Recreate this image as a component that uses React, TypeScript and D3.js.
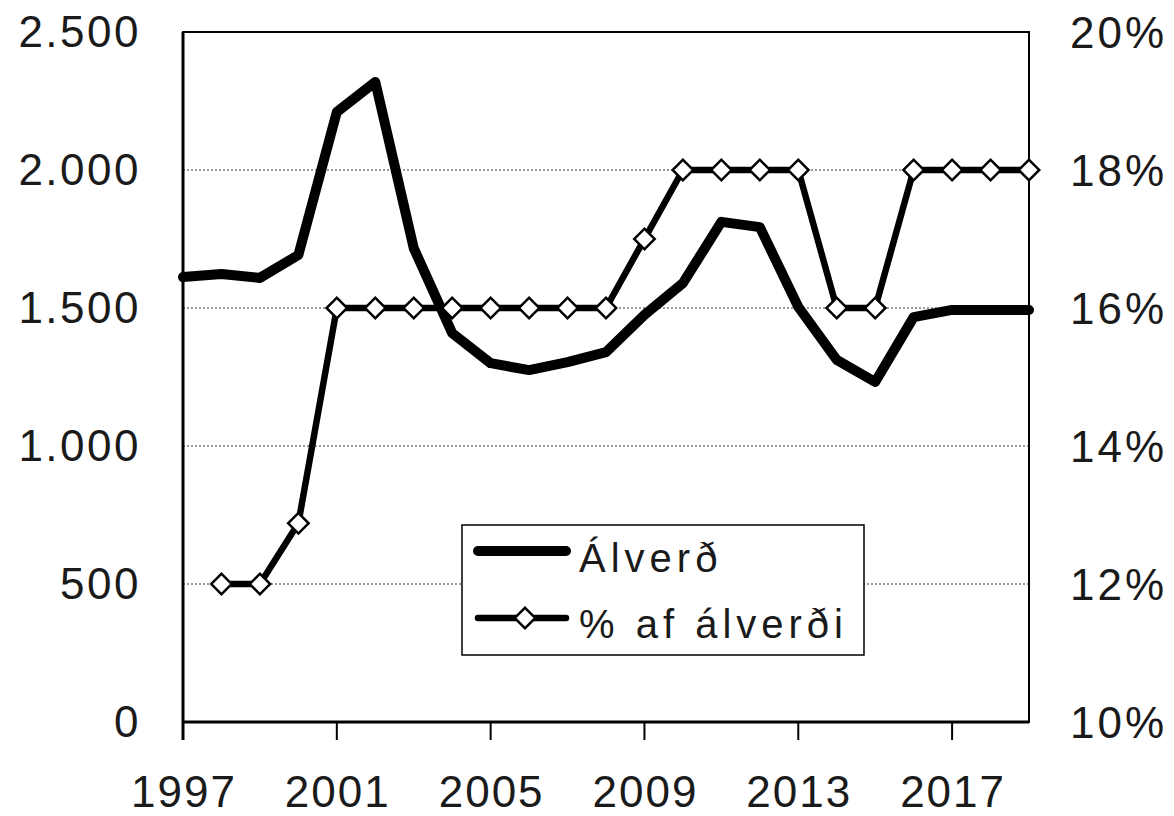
import { useRef, useEffect } from "react";
import * as d3 from "d3";

const years = [1997, 1998, 1999, 2000, 2001, 2002, 2003, 2004, 2005, 2006, 2007, 2008, 2009, 2010, 2011, 2012, 2013, 2014, 2015, 2016, 2017, 2018, 2019];
const alverd = [1612, 1623, 1609, 1692, 2210, 2319, 1717, 1409, 1300, 1275, 1304, 1340, 1475, 1590, 1812, 1793, 1504, 1312, 1232, 1467, 1493, 1493, 1493];
// % af álverði, starts 1998
const pctYears = [1998, 1999, 2000, 2001, 2002, 2003, 2004, 2005, 2006, 2007, 2008, 2009, 2010, 2011, 2012, 2013, 2014, 2015, 2016, 2017, 2018, 2019];
const pct = [12, 12, 12.88, 16, 16, 16, 16, 16, 16, 16, 16, 17, 18, 18, 18, 18, 16, 16, 18, 18, 18, 18];
const leftTicks = [0, 500, 1000, 1500, 2000, 2500];
const rightTicks = [10, 12, 14, 16, 18, 20];
const yearTicks = [1997, 2001, 2005, 2009, 2013, 2017];
const seriesNames = ["Álverð", "% af álverði"];

const W = 1174;
const H = 816;
const FONT = "'Liberation Sans', Arial, sans-serif";

export default function App() {
  const ref = useRef<SVGSVGElement | null>(null);

  useEffect(() => {
    document.body.style.margin = "0";
    if (!ref.current) return;
    const svg = d3.select(ref.current);
    svg.selectAll("*").remove();

    const L = 183, R = 1029, T = 32, B = 722;
    const x = d3.scaleLinear().domain([1997, 2019]).range([L, R]);
    const yL = d3.scaleLinear().domain([0, 2500]).range([B, T]);
    const yR = d3.scaleLinear().domain([10, 20]).range([B, T]);

    svg.append("rect").attr("width", W).attr("height", H).attr("fill", "#fff");

    // gridlines
    svg.append("g")
      .selectAll("line")
      .data(leftTicks.filter((d) => d > 0 && d < 2500))
      .join("line")
      .attr("x1", L).attr("x2", R)
      .attr("y1", (d) => yL(d)).attr("y2", (d) => yL(d))
      .attr("stroke", "#333").attr("stroke-width", 1).attr("stroke-dasharray", "2,2");

    // frame
    svg.append("rect")
      .attr("x", L).attr("y", T).attr("width", R - L).attr("height", B - T)
      .attr("fill", "none").attr("stroke", "#000").attr("stroke-width", 2);
    svg.append("line").attr("x1", L).attr("x2", L).attr("y1", T).attr("y2", B + 18)
      .attr("stroke", "#000").attr("stroke-width", 3);
    svg.append("line").attr("x1", L).attr("x2", R).attr("y1", B).attr("y2", B)
      .attr("stroke", "#000").attr("stroke-width", 3);

    // x ticks
    svg.append("g")
      .selectAll("line")
      .data(yearTicks)
      .join("line")
      .attr("x1", (d) => x(d)).attr("x2", (d) => x(d))
      .attr("y1", B).attr("y2", B + 18)
      .attr("stroke", "#000").attr("stroke-width", 2);

    const txt = (g: any) => g.attr("font-family", FONT).attr("fill", "#1a1a1a");

    svg.append("g").call(txt)
      .selectAll("text")
      .data(yearTicks)
      .join("text")
      .attr("x", (d) => x(d) + 1).attr("y", 807)
      .attr("text-anchor", "middle")
      .attr("font-size", 44).attr("letter-spacing", 2)
      .text((d) => String(d));

    const fmtL = (d: number) => d3.format(",")(d).replace(",", ".");
    svg.append("g").call(txt)
      .selectAll("text")
      .data(leftTicks)
      .join("text")
      .attr("x", 141).attr("y", (d) => yL(d) - 1)
      .attr("text-anchor", "end").attr("dominant-baseline", "central")
      .attr("font-size", 44).attr("letter-spacing", 2.5)
      .text(fmtL);

    svg.append("g").call(txt)
      .selectAll("text")
      .data(rightTicks)
      .join("text")
      .attr("x", 1070).attr("y", (d) => yR(d))
      .attr("text-anchor", "start").attr("dominant-baseline", "central")
      .attr("font-size", 44).attr("letter-spacing", 3)
      .text((d) => d + "%");

    // Álverð line
    svg.append("path")
      .datum(years.map((yr, i) => [yr, alverd[i]] as [number, number]))
      .attr("fill", "none").attr("stroke", "#000").attr("stroke-width", 10)
      .attr("stroke-linejoin", "round").attr("stroke-linecap", "round")
      .attr("d", d3.line<[number, number]>().x((d) => x(d[0])).y((d) => yL(d[1])));

    // % line
    const pData = pctYears.map((yr, i) => [yr, pct[i]] as [number, number]);
    svg.append("path")
      .datum(pData)
      .attr("fill", "none").attr("stroke", "#000").attr("stroke-width", 6.5)
      .attr("stroke-linejoin", "round")
      .attr("d", d3.line<[number, number]>().x((d) => x(d[0])).y((d) => yR(d[1])));

    const diamond = d3.symbol().type(d3.symbolSquare).size(210);
    svg.append("g")
      .selectAll("path")
      .data(pData)
      .join("path")
      .attr("d", diamond)
      .attr("transform", (d) => `translate(${x(d[0])},${yR(d[1])}) rotate(45)`)
      .attr("fill", "#fff").attr("stroke", "#000").attr("stroke-width", 2.5);

    // legend
    const lg = svg.append("g");
    lg.append("rect")
      .attr("x", 462).attr("y", 525).attr("width", 402).attr("height", 130)
      .attr("fill", "#fff").attr("stroke", "#000").attr("stroke-width", 1.5);
    lg.append("line").attr("x1", 478).attr("x2", 566).attr("y1", 551).attr("y2", 551)
      .attr("stroke", "#000").attr("stroke-width", 10).attr("stroke-linecap", "round");
    lg.append("line").attr("x1", 478).attr("x2", 566).attr("y1", 618).attr("y2", 618)
      .attr("stroke", "#000").attr("stroke-width", 6.5).attr("stroke-linecap", "round");
    lg.append("path").attr("d", diamond)
      .attr("transform", "translate(525,618) rotate(45)")
      .attr("fill", "#fff").attr("stroke", "#000").attr("stroke-width", 2.5);
    lg.append("g").call(txt)
      .selectAll("text")
      .data(seriesNames)
      .join("text")
      .attr("x", 579).attr("y", (_d, i) => (i === 0 ? 572 : 638))
      .attr("font-size", 40).attr("letter-spacing", 5)
      .text((d) => d);
  }, []);

  return <svg ref={ref} width={W} height={H} style={{ display: "block" }} />;
}
